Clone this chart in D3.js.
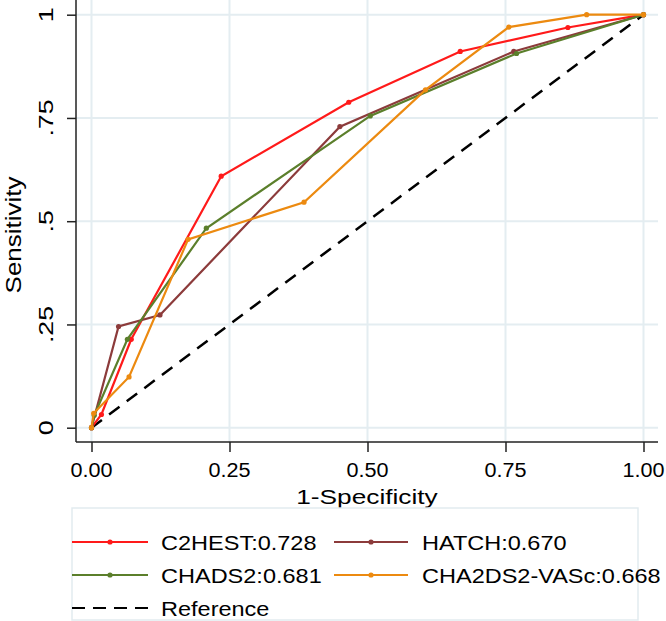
<!DOCTYPE html>
<html>
<head>
<meta charset="utf-8">
<script src="https://cdn.jsdelivr.net/npm/d3@7"></script>
<style>
  html, body { margin: 0; padding: 0; background: #fff; }
  svg { display: block; font-family: "Liberation Sans", Arial, sans-serif; }
</style>
</head>
<body>
<svg id="chart" width="666" height="621"></svg>
<script>
// ---- data ----
const seriesNames = ["C2HEST:0.728", "HATCH:0.670", "CHADS2:0.681", "CHA2DS2-VASc:0.668"];
const seriesColors = ["#ff1a1a", "#8c3b3b", "#5b7f2b", "#ec8a10"];
const c2hestX = [0, 0.018, 0.072, 0.235, 0.466, 0.668, 0.863, 1];
const c2hestY = [0, 0.032, 0.214, 0.609, 0.788, 0.911, 0.969, 1];
const hatchX  = [0, 0.049, 0.124, 0.450, 0.765, 1];
const hatchY  = [0, 0.245, 0.273, 0.729, 0.911, 1];
const chadsX  = [0, 0.005, 0.065, 0.208, 0.505, 0.770, 1];
const chadsY  = [0, 0.030, 0.214, 0.483, 0.755, 0.906, 1];
const vascX   = [0, 0.004, 0.068, 0.175, 0.385, 0.605, 0.756, 0.897, 1];
const vascY   = [0, 0.035, 0.123, 0.456, 0.546, 0.818, 0.970, 1, 1];
const xTicks = [0, 0.25, 0.5, 0.75, 1];
const xTickLabels = ["0.00", "0.25", "0.50", "0.75", "1.00"];
const yTicks = [0, 0.25, 0.5, 0.75, 1];
const yTickLabels = ["0", ".25", ".5", ".75", "1"];
const referenceLabel = "Reference";
const xTitle = "1-Specificity";
const yTitle = "Sensitivity";

const seriesX = [c2hestX, hatchX, chadsX, vascX];
const seriesY = [c2hestY, hatchY, chadsY, vascY];

// ---- layout ----
const svg = d3.select("#chart");
const region = {left: 76, right: 658, top: 0, bottom: 442};
const x = d3.scaleLinear().domain([0, 1]).range([91.5, 643.5]);
const y = d3.scaleLinear().domain([0, 1]).range([427.7, 14.7]);

// text with a stretch along the reading direction
function stext(g, px, py, str, size, anchor, stretch, rot) {
  const tr = rot ? `translate(${px},${py}) rotate(${rot}) scale(${stretch},1)`
                 : `translate(${px},${py}) scale(${stretch},1)`;
  return g.append("text")
    .attr("transform", tr)
    .attr("text-anchor", anchor)
    .attr("dominant-baseline", "central")
    .attr("font-size", size)
    .attr("fill", "#000")
    .text(str);
}

// gridlines
const grid = svg.append("g");
grid.selectAll("line.v").data(xTicks).join("line")
  .attr("x1", d => x(d)).attr("x2", d => x(d))
  .attr("y1", region.top).attr("y2", region.bottom)
  .attr("stroke", "#e4edf1").attr("stroke-width", 2);
grid.selectAll("line.h").data(yTicks).join("line")
  .attr("y1", d => y(d)).attr("y2", d => y(d))
  .attr("x1", region.left).attr("x2", region.right)
  .attr("stroke", "#e4edf1").attr("stroke-width", 2);

// axes
const xAxis = d3.axisBottom(x).tickValues(xTicks).tickSize(10).tickFormat("");
const gx = svg.append("g").attr("transform", `translate(0,${region.bottom})`).call(xAxis);
gx.select(".domain").remove();
gx.selectAll(".tick line").attr("stroke", "#222").attr("stroke-width", 1.5);
svg.append("line").attr("x1", region.left).attr("x2", region.right)
  .attr("y1", region.bottom).attr("y2", region.bottom).attr("stroke", "#222").attr("stroke-width", 1.5);

const yAxis = d3.axisLeft(y).tickValues(yTicks).tickSize(9).tickFormat("");
const gy = svg.append("g").attr("transform", `translate(${region.left},0)`).call(yAxis);
gy.select(".domain").remove();
gy.selectAll(".tick line").attr("stroke", "#222").attr("stroke-width", 1.5);
svg.append("line").attr("x1", region.left).attr("x2", region.left)
  .attr("y1", region.top).attr("y2", region.bottom).attr("stroke", "#222").attr("stroke-width", 1.5);

xTicks.forEach((t, i) => stext(svg, x(t), 470, xTickLabels[i], 21, "middle", 1.03));
yTicks.forEach((t, i) => stext(svg, 46, y(t), yTickLabels[i], 21, "middle", 1.28, -90));
stext(svg, 367, 496, xTitle, 21, "middle", 1.25);
stext(svg, 13, 235, yTitle, 22, "middle", 1.18, -90);

// reference line
svg.append("line")
  .attr("x1", x(0)).attr("y1", y(0)).attr("x2", x(1)).attr("y2", y(1))
  .attr("stroke", "#000").attr("stroke-width", 2.5).attr("stroke-dasharray", "13,9");

// curves
const line = d3.line().x(d => x(d[0])).y(d => y(d[1]));
seriesX.forEach((xs, i) => {
  const pts = xs.map((v, j) => [v, seriesY[i][j]]);
  svg.append("path").datum(pts).attr("d", line)
    .attr("fill", "none").attr("stroke", seriesColors[i]).attr("stroke-width", 2.2);
  svg.append("g").selectAll("circle").data(pts).join("circle")
    .attr("cx", d => x(d[0])).attr("cy", d => y(d[1])).attr("r", 2.6)
    .attr("fill", seriesColors[i]);
});

// legend
svg.append("rect").attr("x", 72).attr("y", 508).attr("width", 566).attr("height", 112)
  .attr("fill", "none").attr("stroke", "#e2ebef").attr("stroke-width", 1.5);
const legPos = [[72, 148, 161, 542], [334, 408, 422, 542], [72, 148, 161, 575], [334, 408, 422, 575]];
legPos.forEach((p, i) => {
  svg.append("line").attr("x1", p[0]).attr("x2", p[1]).attr("y1", p[3]).attr("y2", p[3])
    .attr("stroke", seriesColors[i]).attr("stroke-width", 2.2);
  svg.append("circle").attr("cx", (p[0] + p[1]) / 2).attr("cy", p[3]).attr("r", 2.6).attr("fill", seriesColors[i]);
  stext(svg, p[2], p[3] + 1, seriesNames[i], 21, "start", 1.12);
});
svg.append("line").attr("x1", 72).attr("x2", 148).attr("y1", 608).attr("y2", 608)
  .attr("stroke", "#000").attr("stroke-width", 2.2).attr("stroke-dasharray", "13,8");
stext(svg, 161, 609, referenceLabel, 21, "start", 1.12);
</script>
</body>
</html>
